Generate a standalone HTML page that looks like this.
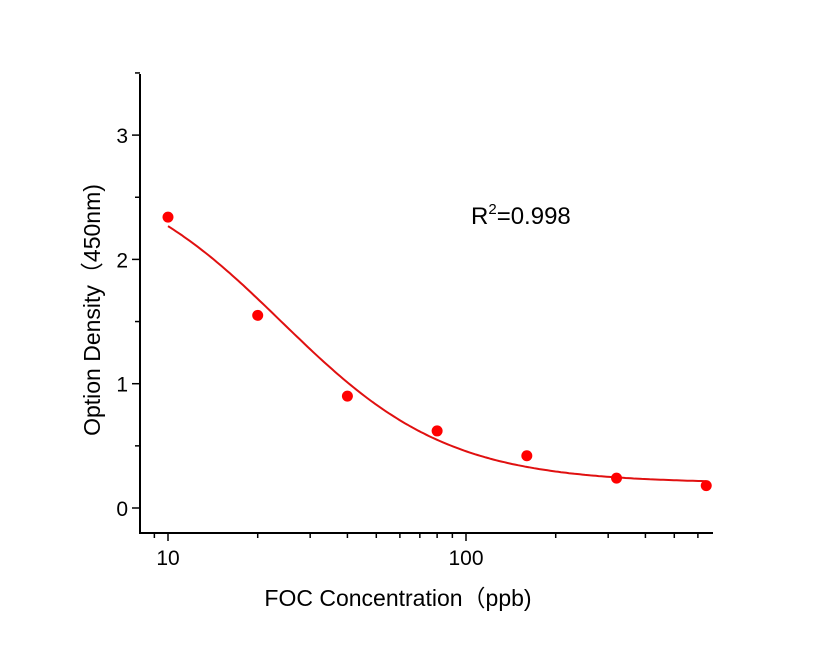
<!DOCTYPE html>
<html><head><meta charset="utf-8"><style>
body{margin:0;background:#fff}
svg text{font-family:"Liberation Sans","Noto Sans CJK SC",sans-serif;fill:#000}
</style></head><body>
<svg width="816" height="640" viewBox="0 0 816 640">
<g id="axes"></g><g id="series"></g>
<text x="471" y="224" font-size="24">R<tspan dy="-10" font-size="15">2</tspan><tspan dy="10">=0.998</tspan></text>
<text transform="translate(100,310) rotate(-90)" text-anchor="middle" font-size="23">Option Density（450nm)</text>
<text x="398" y="606" text-anchor="middle" font-size="23">FOC Concentration（ppb)</text>
</svg>
<script>
const concentrations=[10,20,40,80,160,320,640];
const densities=[2.34,1.55,0.90,0.62,0.42,0.24,0.18];
const yTicks=[0,1,2,3];
const xTicks=[10,100];
const fitTop=2.8, fitBottom=0.2, fitC=24, fitB=1.55;
const X0=140,X1=713,Y0=533,Y1=74;
const xs=v=>168+298*(Math.log10(v)-1);
const ys=v=>508-124.3*v;
const NS="http://www.w3.org/2000/svg";
const ax=document.getElementById('axes'), se=document.getElementById('series');
function mk(p,t,a){const e=document.createElementNS(NS,t);for(const k in a)e.setAttribute(k,a[k]);p.appendChild(e);return e;}
let l=mk(ax,'line',{x1:X0,y1:Y1,x2:X0,y2:Y0,stroke:'#000','stroke-width':2});


l=mk(ax,'line',{x1:X0-1,y1:Y0,x2:X1,y2:Y0,stroke:'#000','stroke-width':2});


for(let v=0;v<=3.5;v+=0.5){const y=ys(v);const major=Math.abs(v-Math.round(v))<1e-6;
 const t=mk(ax,'line',{x1:X0-(major?8:5),y1:y,x2:X0,y2:y,stroke:'#000','stroke-width':1.5});
 
 }
yTicks.forEach(v=>{const t=mk(ax,'text',{x:X0-12,y:ys(v)+8,'text-anchor':'end','font-size':21});t.textContent=v;
 
 });
[9,10,20,30,40,50,60,70,80,90,100,200,300,400,500,600].forEach(v=>{const x=xs(v);const major=(v===10||v===100);
 const t=mk(ax,'line',{x1:x,y1:Y0,x2:x,y2:Y0+(major?8:5),stroke:'#000','stroke-width':1.5});
 
 });
xTicks.forEach(v=>{const t=mk(ax,'text',{x:xs(v),y:Y0+32,'text-anchor':'middle','font-size':21});t.textContent=v;
 
 });
let d='';for(let i=0;i<=200;i++){const lv=1+i/200*Math.log10(64);const c=Math.pow(10,lv);
 const v=fitBottom+(fitTop-fitBottom)/(1+Math.pow(c/fitC,fitB));d+=(i?'L':'M')+xs(c).toFixed(1)+','+ys(v).toFixed(1);}
const p=mk(se,'path',{d:d,fill:'none',stroke:'#e01010','stroke-width':2});


concentrations.forEach((c,i)=>{const e=mk(se,'circle',{cx:xs(c),cy:ys(densities[i]),r:5.5,fill:'#f00'});
 
 });
</script>
</body></html>
